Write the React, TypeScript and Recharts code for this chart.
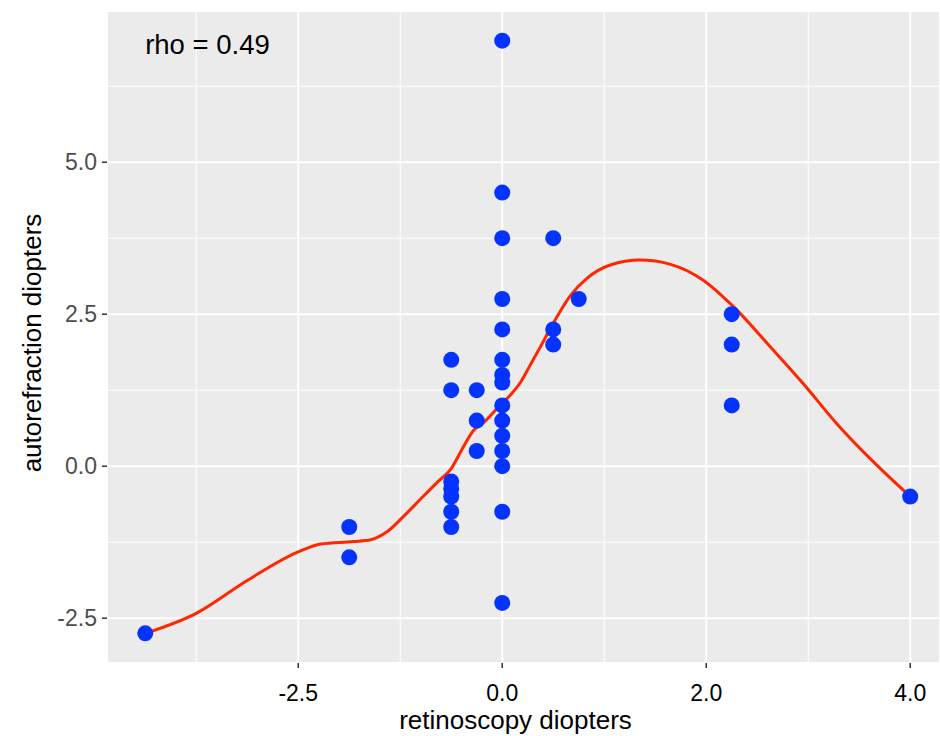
import React from "react";
import {
  ComposedChart,
  Scatter,
  Line,
  XAxis,
  YAxis,
  CartesianGrid,
  ReferenceLine,
  ReferenceDot,
} from "recharts";

// Observations
const retinoscopy = [
  -3.5, -1.5, -1.5, -0.5, -0.5, -0.5, -0.5, -0.5, -0.5, -0.5, -0.25, -0.25, -0.25,
  0, 0, 0, 0, 0, 0, 0, 0, 0, 0, 0, 0, 0, 0, 0, 0.5, 0.5, 0.5, 0.75, 2.25, 2.25, 2.25, 4.0,
];
const autorefraction = [
  -2.75, -1.0, -1.5, 1.75, 1.25, -0.25, -0.375, -0.5, -0.75, -1.0, 1.25, 0.75, 0.25,
  7.0, 4.5, 3.75, 2.75, 2.25, 1.75, 1.5, 1.375, 1.0, 0.75, 0.5, 0.25, 0, -0.75, -2.25,
  3.75, 2.25, 2.0, 2.75, 2.5, 2.0, 1.0, -0.5,
];

// Smoothed (loess) curve
const smoothX = [
  -3.5, -3.0, -2.5, -2.0, -1.78, -1.46, -1.29, -1.13, -0.97, -0.8, -0.64, -0.5, -0.38,
  -0.28, -0.18, -0.05, 0.08, 0.18, 0.27, 0.37, 0.5, 0.67, 0.83, 1.06, 1.35, 1.65, 1.97,
  2.27, 2.63, 2.95, 3.28, 3.64, 4.0,
];
const smoothY = [
  -2.75, -2.42, -1.88, -1.41, -1.28, -1.24, -1.21, -1.08, -0.83, -0.54, -0.27, -0.04, 0.32,
  0.59, 0.72, 0.95, 1.17, 1.38, 1.65, 1.95, 2.35, 2.81, 3.09, 3.31, 3.39, 3.32, 3.06,
  2.62, 1.96, 1.36, 0.7, 0.07, -0.5,
];

// Axes
const xTicks = [-2, 0, 2, 4];
const xTickLabels = ["-2.5", "0.0", "2.0", "4.0"];
const xMinor = [-3, -1, 1, 3];
const yTicks = [-2.5, 0, 2.5, 5];
const yTickLabels = ["-2.5", "0.0", "2.5", "5.0"];
const yMinor = [-1.25, 1.25, 3.75, 6.25];
const xDomain = [-3.875, 4.292];
const yDomain = [-3.2375, 7.4875];

const annotationText = "rho = 0.49";
const annotationX = -2.89;
const annotationY = 7;

const points = retinoscopy.map((x, i) => ({ x, y: autorefraction[i] }));
const curve = smoothX.map((x, i) => ({ x, y: smoothY[i] }));

const FONT = "'Liberation Sans', Arial, Helvetica, sans-serif";
const BLUE = "#0433ff";
const RED = "#ff2600";

const Dot = (props: any) => {
  const { cx, cy } = props;
  if (cx == null || cy == null) return null;
  return <circle cx={cx} cy={cy} r={8} fill={BLUE} />;
};

const XTitle = (props: any) => {
  const vb = props.viewBox || {};
  return (
    <text
      x={vb.x + vb.width / 2 - 8}
      y={vb.y + vb.height - 7}
      textAnchor="middle"
      fontSize={26}
      fontFamily={FONT}
      fill="#000"
    >
      retinoscopy diopters
    </text>
  );
};

const YTitle = (props: any) => {
  const vb = props.viewBox || {};
  const cx = 41;
  const cy = vb.y + vb.height / 2 + 6;
  return (
    <text
      x={cx}
      y={cy}
      transform={`rotate(-90, ${cx}, ${cy})`}
      textAnchor="middle"
      fontSize={26}
      fontFamily={FONT}
      fill="#000"
    >
      autorefraction diopters
    </text>
  );
};

const AnnotationLabel = (props: any) => {
  const vb = props.viewBox || {};
  const x = vb.x + (vb.width || 0) / 2;
  const y = vb.y + (vb.height || 0) / 2;
  return (
    <text x={x} y={y + 13} textAnchor="middle" fontSize={27.5} fontFamily={FONT} fill="#000">
      {annotationText}
    </text>
  );
};

export default function App() {
  return (
    <div style={{ position: "absolute", left: 0, top: 0, width: 940, height: 736, background: "#fff" }}>
      <ComposedChart
        width={940}
        height={736}
        margin={{ top: 11, right: 0, bottom: 0, left: 0 }}
        style={{ fontFamily: FONT }}
      >
        <CartesianGrid fill="#EBEBEB" stroke="#ffffff" strokeWidth={2} />
        {xMinor.map((v) => (
          <ReferenceLine key={"xm" + v} x={v} stroke="#ffffff" strokeWidth={1} />
        ))}
        {yMinor.map((v) => (
          <ReferenceLine key={"ym" + v} y={v} stroke="#ffffff" strokeWidth={1} />
        ))}
        <XAxis
          type="number"
          dataKey="x"
          domain={xDomain}
          allowDataOverflow
          ticks={xTicks}
          tickFormatter={(v: number) => xTickLabels[xTicks.indexOf(v)] ?? String(v)}
          axisLine={false}
          tickLine={{ stroke: "#333333", strokeWidth: 1.5 }}
          tickSize={5}
          tickMargin={17}
          height={73}
          tick={{ fill: "#000", fontSize: 23, fontFamily: FONT }}
          interval={0}
          label={<XTitle />}
        />
        <YAxis
          type="number"
          dataKey="y"
          domain={yDomain}
          allowDataOverflow
          ticks={yTicks}
          tickFormatter={(v: number) => yTickLabels[yTicks.indexOf(v)] ?? String(v)}
          axisLine={false}
          tickLine={{ stroke: "#333333", strokeWidth: 1.5 }}
          tickSize={5}
          tickMargin={5}
          width={107}
          tick={{ fill: "#4D4D4D", fontSize: 23, fontFamily: FONT }}
          interval={0}
          label={<YTitle />}
        />
        <Scatter data={points} dataKey="y" shape={<Dot />} isAnimationActive={false} />
        <Line
          data={curve}
          dataKey="y"
          type="monotone"
          stroke={RED}
          strokeWidth={3}
          dot={false}
          activeDot={false}
          isAnimationActive={false}
        />
        <ReferenceDot
          x={annotationX}
          y={annotationY}
          r={1}
          fill="none"
          stroke="none"
          label={<AnnotationLabel />}
        />
      </ComposedChart>
    </div>
  );
}
